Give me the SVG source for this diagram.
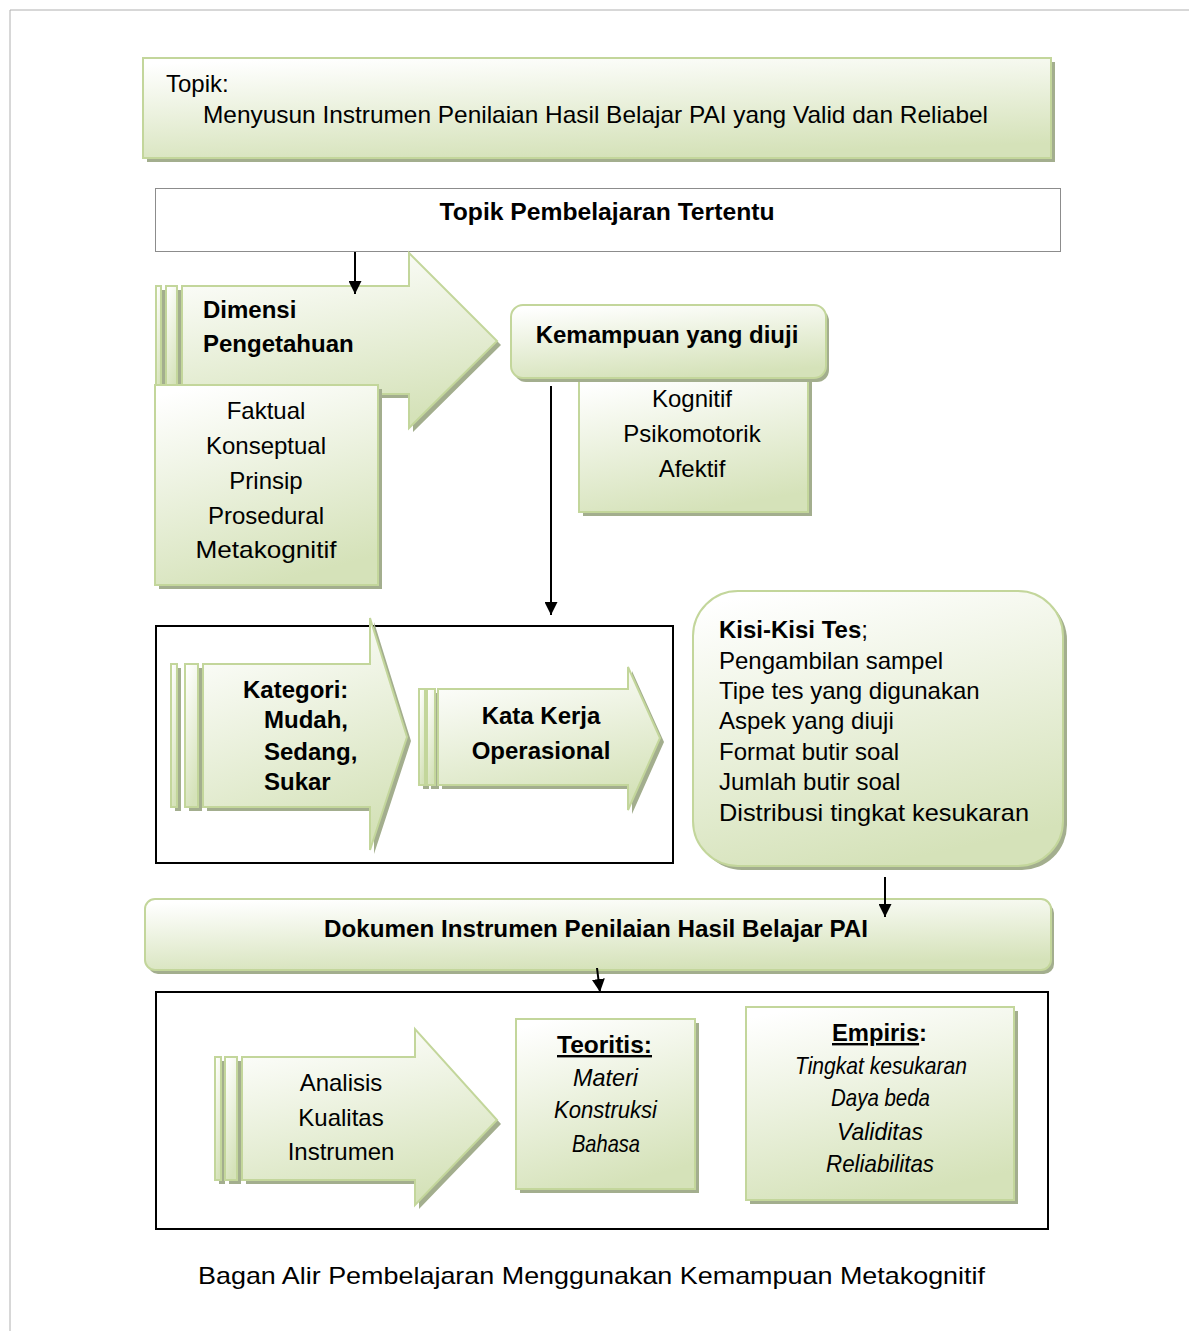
<svg xmlns="http://www.w3.org/2000/svg" width="1189" height="1331" viewBox="0 0 1189 1331">
<style>
.t{font-family:"Liberation Sans",Arial,sans-serif;font-size:24px;fill:#000}
.b{font-weight:bold}
.i{font-style:italic}
.m{text-anchor:middle}
.box{fill:url(#g);stroke:#c3d69b;stroke-width:2}
.sh{fill:#a3ae8e}
.frame{fill:none;stroke:#000;stroke-width:2}
.con{stroke:#000;stroke-width:2;fill:none;marker-end:url(#ah)}
</style>
<defs>
<linearGradient id="g" x1="0.2" y1="0" x2="0.5" y2="1">
<stop offset="0" stop-color="#ffffff"/>
<stop offset="1" stop-color="#d5e2b9"/>
</linearGradient>
<marker id="ah" viewBox="0 0 10 10" refX="10" refY="5" markerWidth="13" markerHeight="13" markerUnits="userSpaceOnUse" orient="auto">
<path d="M0,0 L10,5 L0,10 z" fill="#000"/>
</marker>
</defs>
<rect width="1189" height="1331" fill="#fff"/>
<path d="M10,1331 V10 H1189" fill="none" stroke="#b0b0b0" stroke-width="1"/>

<g id="topik">
<rect class="sh" x="147" y="62" width="908" height="100"/>
<rect class="box" x="143" y="58" width="908" height="100"/>
<text class="t" x="166" y="92" font-size="23">Topik:</text>
<text class="t" x="203" y="123" font-size="24" textLength="785" lengthAdjust="spacingAndGlyphs">Menyusun Instrumen Penilaian Hasil Belajar PAI yang Valid dan Reliabel</text>
</g>

<g id="topik-pembelajaran">
<rect x="155.5" y="188.5" width="905" height="63" fill="#fff" stroke="#8c8c8c" stroke-width="1"/>
<text class="t b m" x="607" y="220" textLength="335" lengthAdjust="spacingAndGlyphs">Topik Pembelajaran Tertentu</text>
</g>

<g id="dimensi">
<g transform="translate(4,4)" class="sh">
<polygon points="182,286 409,286 409,253 497,341 409,428 409,394 182,394"/>
<rect x="156" y="286" width="5" height="108"/>
<rect x="166" y="286" width="11" height="108"/>
</g>
<polygon class="box" points="182,286 409,286 409,253 497,341 409,428 409,394 182,394"/>
<rect class="box" x="156" y="286" width="5" height="108"/>
<rect class="box" x="166" y="286" width="11" height="108"/>
<text class="t b" x="203" y="318">Dimensi</text>
<text class="t b" x="203" y="352">Pengetahuan</text>
</g>

<g id="faktual">
<rect class="sh" x="159" y="389" width="223" height="200"/>
<rect class="box" x="155" y="385" width="223" height="200"/>
<text class="t m" x="266" y="419" font-size="25">Faktual</text>
<text class="t m" x="266" y="454" font-size="25">Konseptual</text>
<text class="t m" x="266" y="489" font-size="25">Prinsip</text>
<text class="t m" x="266" y="524" font-size="25">Prosedural</text>
<text class="t m" x="266" y="558" font-size="25" textLength="141" lengthAdjust="spacingAndGlyphs">Metakognitif</text>
</g>

<g id="kognitif">
<rect class="sh" x="583" y="382" width="229" height="134"/>
<rect class="box" x="579" y="378" width="229" height="134"/>
<text class="t m" x="692" y="407" font-size="25">Kognitif</text>
<text class="t m" x="692" y="442" font-size="25">Psikomotorik</text>
<text class="t m" x="692" y="477" font-size="25">Afektif</text>
</g>

<g id="kemampuan">
<rect class="sh" x="514" y="309" width="315" height="73" rx="12"/>
<rect class="box" x="511" y="305" width="315" height="73" rx="12"/>
<text class="t b m" x="667" y="343">Kemampuan yang diuji</text>
</g>

<g id="kategori-frame">
<rect class="frame" x="156" y="626" width="517" height="237"/>
</g>

<g id="kategori">
<g transform="translate(4,4)" class="sh">
<polygon points="203,664 370,664 370,618 407,737 370,850 370,807 203,807"/>
<rect x="171" y="664" width="6" height="143"/>
<rect x="185" y="664" width="13" height="143"/>
</g>
<polygon class="box" points="203,664 370,664 370,618 407,737 370,850 370,807 203,807"/>
<rect class="box" x="171" y="664" width="6" height="143"/>
<rect class="box" x="185" y="664" width="13" height="143"/>
<text class="t b" x="243" y="698">Kategori:</text>
<text class="t b" x="264" y="728">Mudah,</text>
<text class="t b" x="264" y="760">Sedang,</text>
<text class="t b" x="264" y="790">Sukar</text>
</g>

<g id="kata-kerja">
<g transform="translate(4,4)" class="sh">
<polygon points="438,689 628,689 628,667 660,738 628,810 628,785 438,785"/>
<rect x="419" y="689" width="6" height="96"/>
<rect x="427" y="689" width="8" height="96"/>
</g>
<polygon class="box" points="438,689 628,689 628,667 660,738 628,810 628,785 438,785"/>
<rect class="box" x="419" y="689" width="6" height="96"/>
<rect class="box" x="427" y="689" width="8" height="96"/>
<text class="t b m" x="541" y="724">Kata Kerja</text>
<text class="t b m" x="541" y="759">Operasional</text>
</g>

<g id="kisi">
<rect class="sh" x="697" y="595" width="370" height="275" rx="45"/>
<rect class="box" x="693" y="591" width="370" height="275" rx="45"/>
<text class="t" x="719" y="638" font-size="25"><tspan class="b">Kisi-Kisi Tes</tspan>;</text>
<text class="t" x="719" y="669" font-size="25">Pengambilan sampel</text>
<text class="t" x="719" y="699" font-size="25">Tipe tes yang digunakan</text>
<text class="t" x="719" y="729" font-size="25">Aspek yang diuji</text>
<text class="t" x="719" y="760" font-size="25">Format butir soal</text>
<text class="t" x="719" y="790" font-size="25">Jumlah butir soal</text>
<text class="t" x="719" y="821" font-size="25" textLength="310" lengthAdjust="spacingAndGlyphs">Distribusi tingkat kesukaran</text>
</g>

<g id="dokumen">
<rect class="sh" x="148" y="903" width="906" height="71" rx="10"/>
<rect class="box" x="145" y="899" width="906" height="71" rx="10"/>
<text class="t b" x="324" y="937" textLength="544" lengthAdjust="spacingAndGlyphs">Dokumen Instrumen Penilaian Hasil Belajar PAI</text>
</g>

<g id="analisis-frame">
<rect class="frame" x="156" y="992" width="892" height="237"/>
</g>

<g id="analisis">
<g transform="translate(4,4)" class="sh">
<polygon points="242,1057 415,1057 415,1029 497,1120 415,1205 415,1180 242,1180"/>
<rect x="215" y="1057" width="6" height="123"/>
<rect x="225" y="1057" width="12" height="123"/>
</g>
<polygon class="box" points="242,1057 415,1057 415,1029 497,1120 415,1205 415,1180 242,1180"/>
<rect class="box" x="215" y="1057" width="6" height="123"/>
<rect class="box" x="225" y="1057" width="12" height="123"/>
<text class="t m" x="341" y="1091" font-size="25">Analisis</text>
<text class="t m" x="341" y="1126" font-size="25">Kualitas</text>
<text class="t m" x="341" y="1160" font-size="25">Instrumen</text>
</g>

<g id="teoritis">
<rect class="sh" x="520" y="1023" width="179" height="170"/>
<rect class="box" x="516" y="1019" width="179" height="170"/>
<text class="t b" x="557" y="1053" text-decoration="underline" textLength="95" lengthAdjust="spacingAndGlyphs">Teoritis:</text>
<text class="t i" x="573" y="1086" textLength="65" lengthAdjust="spacingAndGlyphs">Materi</text>
<text class="t i" x="554" y="1118" textLength="103" lengthAdjust="spacingAndGlyphs">Konstruksi</text>
<text class="t i" x="572" y="1152" textLength="68" lengthAdjust="spacingAndGlyphs">Bahasa</text>
</g>

<g id="empiris">
<rect class="sh" x="750" y="1011" width="268" height="193"/>
<rect class="box" x="746" y="1007" width="268" height="193"/>
<text class="t b" x="832" y="1041" textLength="95" lengthAdjust="spacingAndGlyphs"><tspan text-decoration="underline">Empiris</tspan>:</text>
<text class="t i" x="795" y="1074" textLength="172" lengthAdjust="spacingAndGlyphs">Tingkat kesukaran</text>
<text class="t i" x="831" y="1106" textLength="99" lengthAdjust="spacingAndGlyphs">Daya beda</text>
<text class="t i" x="837" y="1140" textLength="86" lengthAdjust="spacingAndGlyphs">Validitas</text>
<text class="t i" x="826" y="1172" textLength="108" lengthAdjust="spacingAndGlyphs">Reliabilitas</text>
</g>

<g id="caption">
<text class="t" x="198" y="1284" font-size="26" textLength="787" lengthAdjust="spacingAndGlyphs">Bagan Alir Pembelajaran Menggunakan Kemampuan Metakognitif</text>
</g>

<g id="connectors">
<line class="con" x1="355" y1="252" x2="355" y2="294"/>
<line class="con" x1="551" y1="386" x2="551" y2="615"/>
<line class="con" x1="885" y1="877" x2="885" y2="917"/>
<line class="con" x1="597" y1="968" x2="600" y2="992"/>
</g>
</svg>
